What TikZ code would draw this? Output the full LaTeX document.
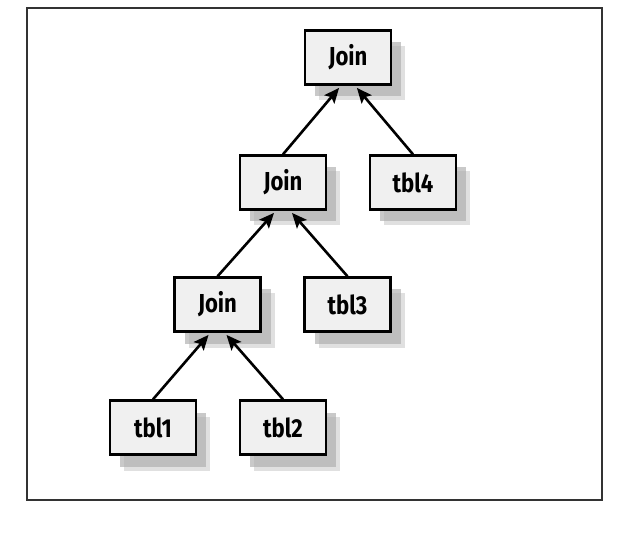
\documentclass[tikz,border=0pt]{standalone}
\usepackage{fontspec}
\newfontfamily\boxfont[FakeStretch=0.85]{Fira Sans}
\usetikzlibrary{arrows.meta,shadows}
\begin{document}
\begin{tikzpicture}[x=1pt,y=-1pt,
  box/.style={draw=black, line width=2.3pt, fill=gray!12,
    minimum width=86pt, minimum height=54pt, inner sep=0pt,
    font=\boxfont\bfseries\fontsize{26}{26}\selectfont,
    drop shadow={shadow xshift=14pt, shadow yshift=-16pt, fill=gray!60, opacity=0.4},
    drop shadow={shadow xshift=10pt, shadow yshift=-12pt, fill=gray!65, opacity=0.65}},
  link/.style={line width=2.6pt, -{Stealth[length=15pt,width=13pt,inset=3pt]}, shorten >=3pt}]
\useasboundingbox (0,0) rectangle (618,534);
\draw[line width=2pt, black!80] (27,8) rectangle (602,500);
\node[box] (j1) at (348,57.5) {Join};
\node[box] (j2) at (283,182.5) {Join};
\node[box] (t4) at (413,182.5) {tbl4};
\node[box] (j3) at (217.5,304.5) {Join};
\node[box] (t3) at (347.5,304.5) {tbl3};
\node[box] (t1) at (153,427.5) {tbl1};
\node[box] (t2) at (283,427.5) {tbl2};
\draw[link] (j2.north) -- ([xshift=-7pt]j1.south);
\draw[link] (t4.north) -- ([xshift=7pt]j1.south);
\draw[link] (j3.north) -- ([xshift=-7pt]j2.south);
\draw[link] (t3.north) -- ([xshift=7pt]j2.south);
\draw[link] (t1.north) -- ([xshift=-7pt]j3.south);
\draw[link] (t2.north) -- ([xshift=7pt]j3.south);
\end{tikzpicture}
\end{document}
